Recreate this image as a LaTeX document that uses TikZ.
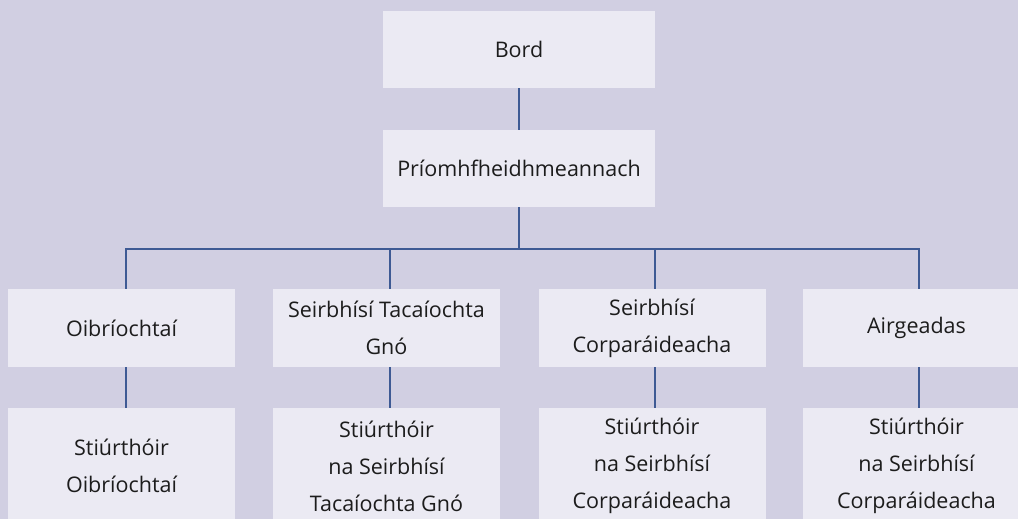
\documentclass[tikz,border=0pt]{standalone}
\usepackage{fontspec}
\setmainfont{Open Sans}
\definecolor{bg}{HTML}{D1CFE2}
\definecolor{boxfill}{HTML}{EBEAF3}
\definecolor{linec}{HTML}{3E5A94}
\definecolor{txt}{HTML}{1C1C1C}
\begin{document}
\begin{tikzpicture}[x=1pt,y=-1pt,
  orgbox/.style={fill=boxfill, draw=none, rectangle, inner sep=0pt, align=center, text=txt,
    font=\fontsize{21.5}{37}\selectfont},
  toprow/.style={orgbox, minimum width=227pt, minimum height=78pt},
  botrow/.style={orgbox, minimum width=227pt, minimum height=116pt},
  link/.style={draw=linec, line width=1.6pt, line join=miter}]
\useasboundingbox (0,0) rectangle (1018,519);
\clip (0,0) rectangle (1018,519);
\fill[bg] (0,0) rectangle (1018,519);

\node[orgbox, minimum width=272pt, minimum height=77pt] (bord) at (519,49.5) {Bord};
\node[orgbox, minimum width=272pt, minimum height=77pt] (prio) at (519,168.5) {Príomhfheidhmeannach};

\node[toprow] (a1) at (121.5,328) {Oibríochtaí};
\node[toprow] (a2) at (386.5,328) {Seirbhísí Tacaíochta\\Gnó};
\node[toprow] (a3) at (652,328) {Seirbhísí\\Corparáideacha};
\node[toprow] (a4) at (916.5,328) {Airgeadas};

\node[botrow] (d1) at (121.5,466) {Stiúrthóir\\Oibríochtaí};
\node[botrow] (d2) at (386.5,466) {Stiúrthóir\\na Seirbhísí\\Tacaíochta Gnó};
\node[botrow] (d3) at (652,466) {Stiúrthóir\\na Seirbhísí\\Corparáideacha};
\node[botrow] (d4) at (916.5,466) {Stiúrthóir\\na Seirbhísí\\Corparáideacha};

\coordinate (c1) at (126,249);
\coordinate (c2) at (390,249);
\coordinate (c3) at (655,249);
\coordinate (c4) at (919,249);
\coordinate (cm) at (519,249);

\draw[link] (bord.south) -- (prio.north);
\draw[link] (prio.south) -- (cm);
\draw[link] (c1 |- a1.north) -- (c1) -- (c4) -- (c4 |- a4.north);
\draw[link] (c2) -- (c2 |- a2.north);
\draw[link] (c3) -- (c3 |- a3.north);
\draw[link] (a1.south -| c1) -- (c1 |- d1.north);
\draw[link] (a2.south -| c2) -- (c2 |- d2.north);
\draw[link] (a3.south -| c3) -- (c3 |- d3.north);
\draw[link] (a4.south -| c4) -- (c4 |- d4.north);
\end{tikzpicture}
\end{document}
